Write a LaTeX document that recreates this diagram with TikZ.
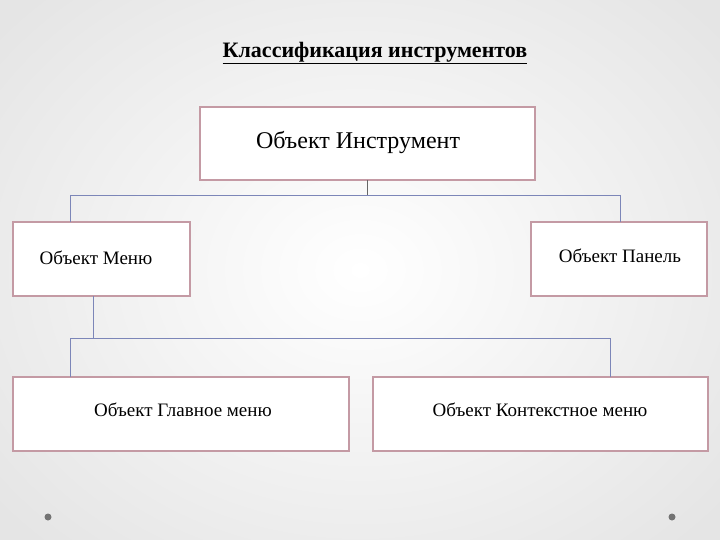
\documentclass[tikz,border=0pt]{standalone}
\usepackage{fontspec}
\setmainfont{Liberation Serif}
\usetikzlibrary{shadows}
\definecolor{bord}{HTML}{C49AA4}
\definecolor{conn}{HTML}{7C86B8}
\tikzset{
 box/.style={draw=bord,line width=1.2pt,fill=white,drop shadow={shadow xshift=1pt,shadow yshift=-1pt,opacity=0.3}},
 lbl/.style={font=\fontsize{19}{22}\selectfont,inner sep=0pt},
 con/.style={draw=conn,line width=0.6pt}
}
\begin{document}
\begin{tikzpicture}[x=1pt,y=-1pt]
\useasboundingbox (0,0) rectangle (720,540);
\shade[inner color=white,outer color=black!10] (-100,-100) rectangle (820,640);
\node[inner sep=0pt,font=\fontsize{22}{24}\selectfont\bfseries] (title) at (375,53) {\underline{Классификация инструментов}};
\draw[box] (200,107) rectangle (535,180);
\node[lbl,font=\fontsize{24}{26}\selectfont] (top) at (358,143) {Объект Инструмент};
\draw[box] (13,222) rectangle (190,296);
\node[lbl] (menu) at (96,258) {Объект Меню};
\draw[box] (531,222) rectangle (707,296);
\node[lbl] (panel) at (620,256) {Объект Панель};
\draw[box] (13,377) rectangle (349,451);
\node[lbl] (main) at (183,410) {Объект Главное меню};
\draw[box] (373,377) rectangle (708,451);
\node[lbl] (ctx) at (540,410) {Объект Контекстное меню};
\coordinate (t1) at (367,180);
\coordinate (m1) at (93,296);
\draw[con,draw=black!60] (t1) -- (367,195);
\draw[con] (70,195) -- (620,195);
\draw[con] (70,195) -- (70,222) (620,195) -- (620,222);
\draw[con] (m1) -- (93,338) (70,338) -- (610,338);
\draw[con] (70,338) -- (70,377) (610,338) -- (610,377);
\fill[black!55] (48,517) circle (3.5);
\fill[black!55] (672,517) circle (3.5);
\end{tikzpicture}
\end{document}
